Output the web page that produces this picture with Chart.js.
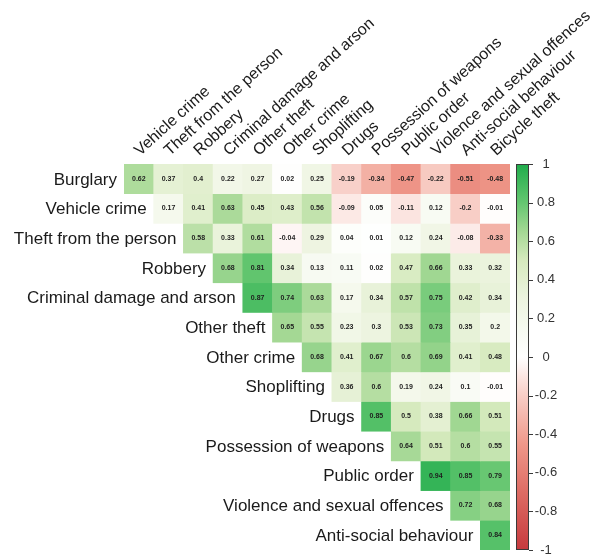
<!DOCTYPE html>
<html>
<head>
<meta charset="utf-8">
<script src="https://cdn.jsdelivr.net/npm/chart.js@4/dist/chart.umd.min.js"></script>
<style>
  html, body { margin: 0; padding: 0; background: #fff; }
  #wrap { width: 595px; height: 556px; }
</style>
</head>
<body>
<div id="wrap"><canvas id="grafico" width="595" height="556"></canvas></div>
<script>
// Datos de la matriz de correlacion (triangulo superior)
const filas = ['Burglary', 'Vehicle crime', 'Theft from the person', 'Robbery',
  'Criminal damage and arson', 'Other theft', 'Other crime', 'Shoplifting', 'Drugs',
  'Possession of weapons', 'Public order', 'Violence and sexual offences', 'Anti-social behaviour'];
const columnas = ['Vehicle crime', 'Theft from the person', 'Robbery', 'Criminal damage and arson',
  'Other theft', 'Other crime', 'Shoplifting', 'Drugs', 'Possession of weapons', 'Public order',
  'Violence and sexual offences', 'Anti-social behaviour', 'Bicycle theft'];

// cada fila empieza en la columna con el mismo indice
const valores = [
  [0.62, 0.37, 0.4, 0.22, 0.27, 0.02, 0.25, -0.19, -0.34, -0.47, -0.22, -0.51, -0.48],
  [0.17, 0.41, 0.63, 0.45, 0.43, 0.56, -0.09, 0.05, -0.11, 0.12, -0.2, -0.01],
  [0.58, 0.33, 0.61, -0.04, 0.29, 0.04, 0.01, 0.12, 0.24, -0.08, -0.33],
  [0.68, 0.81, 0.34, 0.13, 0.11, 0.02, 0.47, 0.66, 0.33, 0.32],
  [0.87, 0.74, 0.63, 0.17, 0.34, 0.57, 0.75, 0.42, 0.34],
  [0.65, 0.55, 0.23, 0.3, 0.53, 0.73, 0.35, 0.2],
  [0.68, 0.41, 0.67, 0.6, 0.69, 0.41, 0.48],
  [0.36, 0.6, 0.19, 0.24, 0.1, -0.01],
  [0.85, 0.5, 0.38, 0.66, 0.51],
  [0.64, 0.51, 0.6, 0.55],
  [0.94, 0.85, 0.79],
  [0.72, 0.68],
  [0.84]
];

const ticksBarra = [1, 0.8, 0.6, 0.4, 0.2, 0, -0.2, -0.4, -0.6, -0.8, -1];

// Escala de color: rojo -> blanco -> verde
const paradas = [
  [-1, [198, 58, 62]],
  [-0.7, [222, 108, 100]],
  [-0.45, [239, 152, 138]],
  [-0.2, [248, 206, 198]],
  [0, [255, 255, 255]],
  [0.3, [237, 244, 224]],
  [0.5, [214, 234, 190]],
  [0.65, [164, 216, 148]],
  [0.8, [100, 198, 112]],
  [1, [32, 172, 76]]
];

function colorPara(v) {
  for (let i = 1; i < paradas.length; i++) {
    if (v <= paradas[i][0]) {
      const a = paradas[i - 1], b = paradas[i];
      const t = (v - a[0]) / (b[0] - a[0]);
      const c = a[1].map((x, k) => Math.round(x + (b[1][k] - x) * t));
      return `rgb(${c[0]},${c[1]},${c[2]})`;
    }
  }
  const u = paradas[paradas.length - 1][1];
  return `rgb(${u[0]},${u[1]},${u[2]})`;
}

const FUENTE = "'Liberation Sans', Arial, sans-serif";

// Un dataset por fila, cada celda es una barra flotante
const datasets = valores.map(function (fila, r) {
  return {
    label: filas[r],
    data: fila.map((v, j) => ({ x: columnas[r + j], y: [r, r + 1], v: v })),
    backgroundColor: ctx => colorPara(ctx.raw ? ctx.raw.v : 0),
    borderWidth: 0,
    barPercentage: 1,
    categoryPercentage: 1,
    grouped: false
  };
});

// Plugin para textos de celdas, etiquetas de filas y barra de color
const pluginTextos = {
  id: 'textos',
  afterDatasetsDraw(chart) {
    const ctx = chart.ctx;
    const area = chart.chartArea;
    ctx.save();
    chart.data.datasets.forEach(function (ds, i) {
      const meta = chart.getDatasetMeta(i);
      meta.data.forEach(function (el, j) {
        const yc = (el.y + el.base) / 2;
        ctx.fillStyle = '#1e1e1e';
        ctx.font = 'bold 7px ' + FUENTE;
        ctx.textAlign = 'center';
        ctx.textBaseline = 'middle';
        ctx.fillText(String(ds.data[j].v), el.x, yc);
        if (j === 0) {
          ctx.font = '17px ' + FUENTE;
          ctx.textAlign = 'right';
          ctx.fillStyle = '#1a1a1a';
          ctx.fillText(ds.label, el.x - el.width / 2 - 7, yc + 1);
        }
      });
    });

    // barra de color
    const x0 = area.right + 6, ancho = 13;
    const grad = ctx.createLinearGradient(0, area.top, 0, area.bottom);
    for (let k = 0; k <= 40; k++) {
      const v = 1 - k / 20;
      grad.addColorStop(k / 40, colorPara(v));
    }
    ctx.fillStyle = grad;
    ctx.fillRect(x0, area.top, ancho, area.bottom - area.top);
    ctx.strokeStyle = '#3a3a3a';
    ctx.lineWidth = 1;
    ctx.strokeRect(x0 + 0.5, area.top + 0.5, ancho - 1, area.bottom - area.top - 1);
    ctx.font = '13px ' + FUENTE;
    ctx.fillStyle = '#333';
    ctx.textAlign = 'center';
    ctx.textBaseline = 'middle';
    ticksBarra.forEach(function (t) {
      const y = area.top + (1 - t) / 2 * (area.bottom - area.top);
      ctx.beginPath();
      ctx.moveTo(x0 + ancho, Math.round(y) + 0.5);
      ctx.lineTo(x0 + ancho + 4, Math.round(y) + 0.5);
      ctx.stroke();
      ctx.fillText(String(t), x0 + ancho + 17, y);
    });
    ctx.restore();
  }
};

new Chart(document.getElementById('grafico'), {
  type: 'bar',
  data: { labels: columnas, datasets: datasets },
  options: {
    responsive: false,
    devicePixelRatio: 1,
    animation: false,
    layout: { padding: { left: 124, right: 85, top: 0, bottom: 6 } },
    plugins: { legend: { display: false }, tooltip: { enabled: false } },
    scales: {
      x: {
        type: 'category',
        position: 'top',
        offset: true,
        grid: { display: false, drawTicks: false },
        border: { display: false },
        ticks: {
          minRotation: 42,
          maxRotation: 42,
          autoSkip: false,
          padding: 4,
          labelOffset: 11,
          color: '#1a1a1a',
          font: { family: FUENTE, size: 16 }
        },
        afterFit: function (scale) { scale.height = 164; }
      },
      y: {
        type: 'linear',
        min: 0,
        max: 13,
        reverse: true,
        display: false
      }
    }
  },
  plugins: [pluginTextos]
});
</script>
</body>
</html>
